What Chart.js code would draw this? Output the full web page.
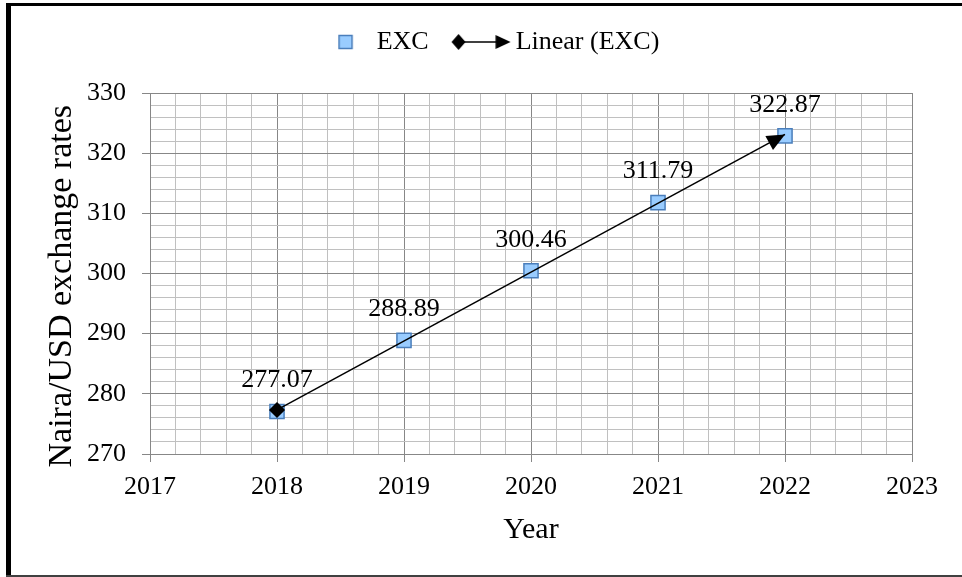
<!DOCTYPE html>
<html>
<head>
<meta charset="utf-8">
<title>Naira/USD exchange rates</title>
<script src="https://cdn.jsdelivr.net/npm/chart.js@4.4.0/dist/chart.umd.min.js"></script>
<style>
  html, body { margin: 0; padding: 0; background: #fff; }
  #wrap { position: relative; width: 962px; height: 577px; }
</style>
</head>
<body>
<div id="wrap"><canvas id="rateChart"></canvas></div>
<script>
const years = [2018, 2019, 2020, 2021, 2022];
const excRates = [277.07, 288.89, 300.46, 311.79, 322.87];
// end points of the linear trend line
const trendYears = [2018, 2022];
const trendRates = [277.32, 323.12];
const yearTicks = [2017, 2018, 2019, 2020, 2021, 2022, 2023];
const rateTicks = [270, 280, 290, 300, 310, 320, 330];

const SERIF = "'Times New Roman', 'Liberation Serif', serif";
const MAJOR = '#878787';
const MINOR = '#c0c0c0';

function isMajor(list, v) {
  return list.some(t => Math.abs(t - v) < 1e-6);
}

// small canvases used as legend symbols
function legendIcon(draw) {
  const c = document.createElement('canvas');
  c.width = 140;
  c.height = 30;
  draw(c.getContext('2d'), 70, 15);
  return c;
}

const excIcon = legendIcon((g, cx, cy) => {
  const x = cx + 18.4, s = 13;
  g.fillStyle = '#99CCFF';
  g.strokeStyle = '#4A7EBB';
  g.lineWidth = 1.5;
  g.fillRect(x - s / 2, cy - s / 2, s, s);
  g.strokeRect(x - s / 2, cy - s / 2, s, s);
});

const trendIcon = legendIcon((g, cx, cy) => {
  const x0 = cx - 7.6, x1 = cx + 44.4;
  g.strokeStyle = '#000';
  g.fillStyle = '#000';
  g.lineWidth = 1.5;
  g.beginPath();
  g.moveTo(x0, cy);
  g.lineTo(x1 - 12, cy);
  g.stroke();
  g.beginPath();
  g.moveTo(x0 - 7, cy);
  g.lineTo(x0, cy - 8);
  g.lineTo(x0 + 7, cy);
  g.lineTo(x0, cy + 8);
  g.closePath();
  g.fill();
  g.beginPath();
  g.moveTo(x1, cy);
  g.lineTo(x1 - 15, cy - 7);
  g.lineTo(x1 - 15, cy + 7);
  g.closePath();
  g.fill();
});

// white page with the black frame around the chart
const framePlugin = {
  id: 'frame',
  beforeDraw(chart) {
    const ctx = chart.ctx;
    ctx.save();
    ctx.fillStyle = '#fff';
    ctx.fillRect(0, 0, chart.width, chart.height);
    ctx.fillStyle = '#000';
    ctx.fillRect(6, 3, 5, chart.height - 3);
    ctx.fillRect(6, 3, chart.width - 6, 3);
    ctx.fillStyle = '#404040';
    ctx.fillRect(6, chart.height - 2, chart.width - 6, 2);
    ctx.restore();
  }
};

// value labels above the EXC markers and the arrow head of the trend line
const labelPlugin = {
  id: 'valueLabels',
  afterDatasetsDraw(chart) {
    const ctx = chart.ctx;
    ctx.save();
    ctx.font = '26px ' + SERIF;
    ctx.fillStyle = '#000';
    ctx.textAlign = 'center';
    ctx.textBaseline = 'middle';
    chart.getDatasetMeta(0).data.forEach((pt, i) => {
      ctx.fillText(excRates[i].toFixed(2), pt.x, pt.y - 31);
    });

    const tr = chart.getDatasetMeta(1).data;
    const a = tr[0], b = tr[tr.length - 1];
    const ang = Math.atan2(b.y - a.y, b.x - a.x);
    ctx.translate(b.x, b.y);
    ctx.rotate(ang);
    ctx.beginPath();
    ctx.moveTo(0, 0);
    ctx.lineTo(-18, -8);
    ctx.lineTo(-18, 8);
    ctx.closePath();
    ctx.fill();
    ctx.restore();
  }
};

new Chart(document.getElementById('rateChart'), {
  type: 'scatter',
  data: {
    datasets: [{
      label: 'EXC',
      data: years.map((y, i) => ({ x: y, y: excRates[i] })),
      pointStyle: 'rect',
      pointRadius: 10,
      pointHoverRadius: 10,
      pointBackgroundColor: '#99CCFF',
      pointBorderColor: '#4A7EBB',
      pointBorderWidth: 1.5,
      order: 2
    }, {
      label: 'Linear (EXC)',
      data: trendYears.map((y, i) => ({ x: y, y: trendRates[i] })),
      showLine: true,
      borderColor: '#000',
      borderWidth: 1.5,
      pointStyle: 'rectRot',
      pointRadius: [7, 0],
      pointHoverRadius: [7, 0],
      pointBackgroundColor: '#000',
      pointBorderColor: '#000',
      order: 1
    }]
  },
  options: {
    responsive: true,
    maintainAspectRatio: false,
    animation: false,
    events: [],
    layout: { padding: { top: 28, left: 38, right: 50, bottom: 25 } },
    plugins: {
      tooltip: { enabled: false },
      legend: {
        position: 'top',
        labels: {
          usePointStyle: true,
          pointStyleWidth: 73,
          padding: 1,
          color: '#000',
          font: { family: SERIF, size: 26 },
          generateLabels: () => [
            { text: 'EXC', pointStyle: excIcon, fillStyle: '#99CCFF', strokeStyle: '#4A7EBB', lineWidth: 0, hidden: false, datasetIndex: 0 },
            { text: 'Linear (EXC)', pointStyle: trendIcon, fillStyle: '#000', strokeStyle: '#000', lineWidth: 0, hidden: false, datasetIndex: 1 }
          ]
        }
      },
      // blank spacer between the legend and the plot area
      subtitle: {
        display: true,
        text: ' ',
        weight: 500,
        font: { size: 20, lineHeight: 1 },
        padding: { top: 4, bottom: 4 }
      }
    },
    scales: {
      x: {
        type: 'linear',
        position: 'bottom',
        min: yearTicks[0],
        max: yearTicks[yearTicks.length - 1],
        afterFit: s => { s.height = 98; },
        ticks: {
          stepSize: 0.2,
          autoSkip: false,
          maxRotation: 0,
          padding: 10,
          color: '#000',
          font: { family: SERIF, size: 26 },
          callback: v => isMajor(yearTicks, v) ? String(Math.round(v)) : ''
        },
        grid: {
          color: c => isMajor(yearTicks, c.tick.value) ? MAJOR : MINOR,
          tickColor: c => isMajor(yearTicks, c.tick.value) ? MAJOR : 'transparent',
          tickLength: 8,
          lineWidth: 1
        },
        border: { color: MAJOR },
        title: {
          display: true,
          text: 'Year',
          color: '#000',
          font: { family: SERIF, size: 30 },
          padding: { top: 4, bottom: 4 }
        }
      },
      y: {
        min: rateTicks[0],
        max: rateTicks[rateTicks.length - 1],
        afterFit: s => { s.width = 112; },
        ticks: {
          stepSize: 2,
          autoSkip: false,
          padding: 16,
          color: '#000',
          font: { family: SERIF, size: 26 },
          callback: v => isMajor(rateTicks, v) ? String(Math.round(v)) : ''
        },
        grid: {
          color: c => isMajor(rateTicks, c.tick.value) ? MAJOR : MINOR,
          tickColor: c => isMajor(rateTicks, c.tick.value) ? MAJOR : 'transparent',
          tickLength: 8,
          lineWidth: 1
        },
        border: { color: MAJOR },
        title: {
          display: true,
          // trailing spaces push the visible text a little below centre
          text: 'Naira/USD exchange rates   ',
          color: '#000',
          font: { family: SERIF, size: 34 },
          padding: { top: 4, bottom: 4 }
        }
      }
    }
  },
  plugins: [framePlugin, labelPlugin]
});
</script>
</body>
</html>
